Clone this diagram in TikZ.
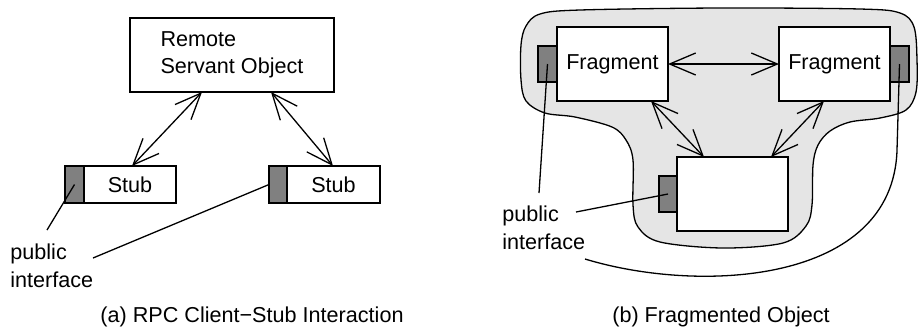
\documentclass[tikz,border=0pt]{standalone}
\usepackage{fontspec}
\setmainfont{Liberation Sans}
\usetikzlibrary{arrows.meta}
\definecolor{ifgray}{RGB}{128,128,128}
\definecolor{blobgray}{RGB}{229,229,229}
\begin{document}
\begin{tikzpicture}[x=0.5pt,y=-0.5pt,
  font=\fontsize{10.8}{13.6}\selectfont,
  box/.style={draw, line width=0.7pt, fill=white, inner sep=0pt, outer sep=0pt},
  iface/.style={draw, line width=0.7pt, fill=ifgray, inner sep=0pt, outer sep=0pt, minimum height=18pt},
  conn/.style={line width=0.65pt},
  biarrow/.style={line width=0.65pt, {Straight Barb[length=13pt,width=11pt]}-{Straight Barb[length=13pt,width=11pt]}},
  lbl/.style={inner sep=0pt, align=left}
]
\path[use as bounding box] (0,0) rectangle (919,329);

% ---------- (a) RPC ----------
\node[box, minimum width=102pt, minimum height=37pt, align=left] (remote) at (232,55) {Remote\\Servant Object};
\node[box, minimum width=46pt, minimum height=18.5pt] (stubA) at (130,184.5) {Stub};
\node[iface, minimum width=9.5pt, minimum height=18.5pt] (ifA) at (74.5,184.5) {};
\node[box, minimum width=46.5pt, minimum height=18.5pt] (stubB) at (333.5,184.5) {Stub};
\node[iface, minimum width=9pt, minimum height=18.5pt] (ifB) at (278,184.5) {};

\draw[biarrow] ([xshift=36pt]remote.south west) -- ([xshift=24pt]stubA.north west);
\draw[biarrow] ([xshift=70.5pt]remote.south west) -- ([xshift=23pt]stubB.north west);

\node[lbl, anchor=base west] (piA) at (10,287) {public\\interface};
\coordinate (pA1) at (47,230);
\coordinate (pA2) at (93,258);
\draw[conn] (ifA.center) -- (pA1);
\draw[conn] (ifB.west) -- (pA2);

\node[anchor=base, inner sep=0pt] (capA) at (252,322) {(a) RPC Client−Stub Interaction};

% ---------- (b) Fragmented ----------
\path[draw, line width=0.65pt, fill=blobgray] plot[smooth cycle, tension=0.55] coordinates {
 (540,14) (580,10) (720,8) (860,9) (900,13) (914,27) (917,60) (916,92) (906,110)
 (880,118) (850,122) (830,131) (818,145) (813,165) (812,205) (806,226) (783,243)
 (723,248) (660,242) (638,227) (633,205) (633,160) (626,140) (612,127) (575,117)
 (545,113) (526,101) (521,80) (521,45) (526,26)};

\node[box, minimum width=55.5pt, minimum height=37pt] (fragA) at (612.5,64) {Fragment};
\node[iface, minimum width=9.5pt] (ifFA) at (547.5,64) {};
\node[box, minimum width=55.5pt, minimum height=37pt] (fragB) at (834.5,64) {Fragment};
\node[iface, minimum width=9.5pt] (ifFB) at (899.5,64) {};
\node[box, minimum width=55.5pt, minimum height=37pt] (fragC) at (732.5,194) {};
\node[iface, minimum width=9pt] (ifFC) at (668,194) {};

\draw[biarrow] (fragA.east) -- (fragB.west);
\draw[biarrow] ([xshift=47pt]fragA.south west) -- ([xshift=13.5pt]fragC.north west);
\draw[biarrow] ([xshift=22.5pt]fragB.south west) -- ([xshift=47pt]fragC.north west);

\node[lbl, anchor=base west] (piB) at (502,249) {public\\interface};
\coordinate (pB1) at (539,193);
\coordinate (pB2) at (576,212);
\coordinate (pB3) at (585,259);
\coordinate (pB4) at (897,150);
\draw[conn] (ifFA.center) -- (pB1);
\draw[conn] (ifFC.center) -- (pB2);
\draw[conn] (pB3) .. controls (700,294) and (893,284) .. (pB4) -- (ifFB.center);

\node[anchor=base, inner sep=0pt] (capB) at (721,322) {(b) Fragmented Object};
\end{tikzpicture}
\end{document}
